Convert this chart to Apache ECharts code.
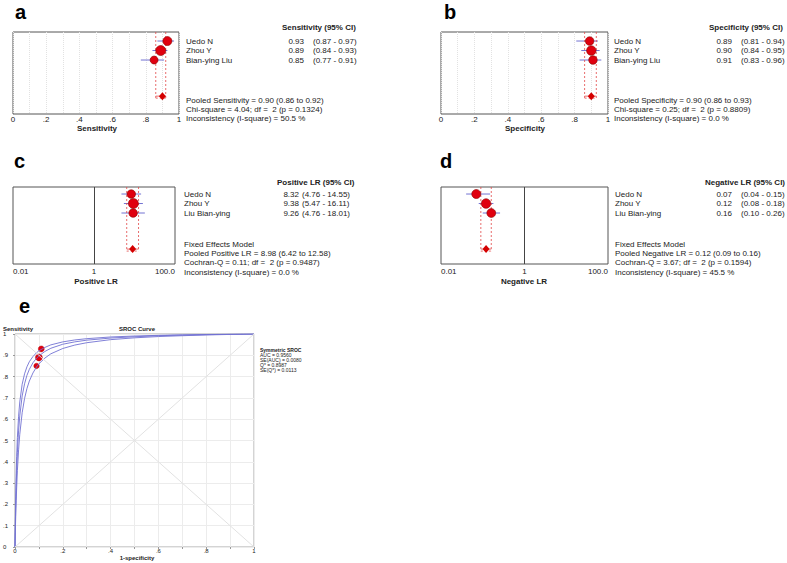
<!DOCTYPE html>
<html>
<head>
<meta charset="utf-8">
<script src="https://cdn.jsdelivr.net/npm/echarts@6/dist/echarts.min.js"></script>
<style>
html, body { margin: 0; padding: 0; background: #fff; }
#chart { width: 787px; height: 563px; }
</style>
</head>
<body>
<div id="chart"></div>
<script>
// ---- data ----
const studies = ['Uedo N', 'Zhou Y', 'Bian-ying Liu'];
const studiesLR = ['Uedo N', 'Zhou Y', 'Liu Bian-ying'];

// a: sensitivity
const sensEst = [0.93, 0.89, 0.85];
const sensLo = [0.87, 0.84, 0.77];
const sensHi = [0.97, 0.93, 0.91];
const sensPooled = [0.90, 0.86, 0.92];
const sensHet = [4.04, 2, 0.1324, 50.5];
const sensWeight = [0.9, 1.0, 0.8];

// b: specificity
const specEst = [0.89, 0.90, 0.91];
const specLo = [0.81, 0.84, 0.83];
const specHi = [0.94, 0.95, 0.96];
const specPooled = [0.90, 0.86, 0.93];
const specHet = [0.25, 2, 0.8809, 0.0];
const specWeight = [0.85, 0.95, 0.85];

// c: positive LR
const plrEst = [8.32, 9.38, 9.26];
const plrLo = [4.76, 5.47, 4.76];
const plrHi = [14.55, 16.11, 18.01];
const plrPooled = [8.98, 6.42, 12.58];
const plrHet = [0.11, 2, 0.9487, 0.0];
const plrWeight = [0.85, 1.0, 0.85];

// d: negative LR
const nlrEst = [0.07, 0.12, 0.16];
const nlrLo = [0.04, 0.08, 0.10];
const nlrHi = [0.15, 0.18, 0.26];
const nlrPooled = [0.12, 0.09, 0.16];
const nlrHet = [3.67, 2, 0.1594, 45.5];
const nlrWeight = [0.9, 0.95, 0.88];

// e: SROC curves
const srocFpr = [0, 0.0005, 0.001, 0.002, 0.003, 0.005, 0.007, 0.01, 0.015, 0.02, 0.03, 0.04, 0.05, 0.06, 0.075, 0.09, 0.1, 0.125, 0.15, 0.2, 0.25, 0.3, 0.4, 0.5, 0.6, 0.7, 0.8, 0.9, 1];
const srocUpper = [0, 0.050, 0.095, 0.173, 0.239, 0.344, 0.424, 0.514, 0.614, 0.681, 0.764, 0.813, 0.846, 0.870, 0.894, 0.912, 0.921, 0.937, 0.949, 0.963, 0.972, 0.978, 0.986, 0.9905, 0.9937, 0.9959, 0.9976, 0.9989, 1];
const srocMid = [0, 0.038, 0.073, 0.136, 0.192, 0.284, 0.357, 0.443, 0.545, 0.616, 0.709, 0.766, 0.806, 0.834, 0.865, 0.886, 0.897, 0.918, 0.933, 0.952, 0.963, 0.971, 0.981, 0.987, 0.992, 0.995, 0.997, 0.9986, 1];
const srocLower = [0, 0.027, 0.052, 0.100, 0.142, 0.217, 0.280, 0.358, 0.456, 0.529, 0.630, 0.697, 0.744, 0.779, 0.817, 0.845, 0.860, 0.887, 0.907, 0.932, 0.948, 0.959, 0.9735, 0.982, 0.988, 0.992, 0.9955, 0.998, 1];
const srocX = [0.11, 0.10, 0.09];
const srocY = [0.93, 0.89, 0.85];
const srocWeight = [0.6, 0.7, 0.55];
const srocStats = [0.9560, 0.0080, 0.8987, 0.0113];

// tick labels
const unitTicks = ['0', '.2', '.4', '.6', '.8', '1'];
const srocYTicks = ['0', '.1', '.2', '.3', '.4', '.5', '.6', '.7', '.8', '.9', '1'];
const lrTickValues = [0.01, 1, 100];
const lrTicks = ['0.01', '1', '100.0'];

// ---- layout / style ----
const FONT = '"Liberation Sans", Arial, sans-serif';
const RED = '#e0000f';
const BLUE = '#7272d2';
const studyRows = [1, 2, 3];
const pooledRow = 6.8;

function txt(x, y, s, opt) {
    opt = opt || {};
    return {
        type: 'text', x: x, y: y, silent: true,
        style: {
            text: s,
            font: (opt.bold ? 'bold ' : '') + (opt.size || 8) + 'px ' + FONT,
            fill: opt.color || '#222',
            textAlign: opt.align || 'left',
            textVerticalAlign: 'middle'
        }
    };
}

function unitLabel(v) {
    const k = Math.round(v * 10);
    return k % 2 === 0 ? unitTicks[k / 2] : '';
}

function lrLabel(v) {
    const i = lrTickValues.findIndex(t => Math.abs(Math.log10(t) - Math.log10(v)) < 1e-6);
    return i < 0 ? '' : lrTicks[i];
}

const panels = [
    { grid: { left: 13, top: 32, width: 166, height: 82 }, log: false, yMin: 0.05, yMax: 8.68,
      est: sensEst, lo: sensLo, hi: sensHi, pooled: sensPooled, weight: sensWeight },
    { grid: { left: 441, top: 32, width: 167, height: 82 }, log: false, yMin: 0.05, yMax: 8.68,
      est: specEst, lo: specLo, hi: specHi, pooled: specPooled, weight: specWeight },
    { grid: { left: 13, top: 187, width: 162, height: 77 }, log: true, yMin: 0.26, yMax: 8.37,
      est: plrEst, lo: plrLo, hi: plrHi, pooled: plrPooled, weight: plrWeight },
    { grid: { left: 441, top: 187, width: 167, height: 77 }, log: true, yMin: 0.26, yMax: 8.37,
      est: nlrEst, lo: nlrLo, hi: nlrHi, pooled: nlrPooled, weight: nlrWeight }
];

const grids = [], xAxes = [], yAxes = [], series = [];

panels.forEach((p, gi) => {
    grids.push(Object.assign({ show: true, borderColor: '#555', borderWidth: 1, backgroundColor: 'transparent' }, p.grid));
    if (p.log) {
        xAxes.push({
            gridIndex: gi, type: 'log', logBase: 10, min: 0.01, max: 100,
            axisLine: { show: false }, axisTick: { show: false }, splitLine: { show: false },
            axisLabel: { margin: 3, fontSize: 8, color: '#222', fontFamily: FONT, formatter: lrLabel,
                         alignMinLabel: 'left', alignMaxLabel: 'right', showMinLabel: true, showMaxLabel: true }
        });
    } else {
        xAxes.push({
            gridIndex: gi, type: 'value', min: 0, max: 1, interval: 0.1,
            axisLine: { show: false }, axisTick: { show: false },
            splitLine: { show: true, lineStyle: { color: '#e2e2e2', type: 'dotted', width: 1 } },
            axisLabel: { margin: 1, fontSize: 8, color: '#222', fontFamily: FONT, formatter: unitLabel }
        });
    }
    yAxes.push({ gridIndex: gi, type: 'value', inverse: true, min: p.yMin, max: p.yMax, show: false });

    // confidence interval whiskers
    const whisker = {
        type: 'custom', xAxisIndex: gi, yAxisIndex: gi, silent: true,
        encode: { x: [0, 1], y: 2 },
        data: p.est.map((e, i) => [p.lo[i], p.hi[i], studyRows[i]]),
        renderItem: function (params, api) {
            const a = api.coord([api.value(0), api.value(2)]);
            const b = api.coord([api.value(1), api.value(2)]);
            return { type: 'line', shape: { x1: a[0], y1: a[1], x2: b[0], y2: b[1] },
                     style: { stroke: BLUE, lineWidth: 1 } };
        }
    };
    if (p.log) {
        whisker.markLine = {
            silent: true, symbol: ['none', 'none'], label: { show: false },
            lineStyle: { color: '#444', type: 'solid', width: 1 },
            data: [{ xAxis: 1 }]
        };
    }
    series.push(whisker);

    // pooled CI: dashed verticals from the top of the box down to the pooled row
    series.push({
        type: 'custom', xAxisIndex: gi, yAxisIndex: gi, silent: true,
        encode: { x: [0, 1], y: 2 },
        data: [[p.pooled[1], p.pooled[2], pooledRow]],
        renderItem: function (params, api) {
            const top = params.coordSys.y;
            const a = api.coord([api.value(0), api.value(2)]);
            const b = api.coord([api.value(1), api.value(2)]);
            const dash = { stroke: '#e24848', lineWidth: 0.8, lineDash: [2, 2] };
            return { type: 'group', children: [
                { type: 'line', shape: { x1: a[0], y1: top, x2: a[0], y2: a[1] + 2 }, style: dash },
                { type: 'line', shape: { x1: b[0], y1: top, x2: b[0], y2: b[1] + 2 }, style: dash },
                { type: 'line', shape: { x1: a[0], y1: a[1] + 2, x2: b[0], y2: b[1] + 2 }, style: dash },
                { type: 'line', shape: { x1: a[0], y1: a[1], x2: b[0], y2: b[1] },
                  style: { stroke: '#e24848', lineWidth: 0.8 } }
            ] };
        }
    });

    // study estimates
    series.push({
        type: 'scatter', xAxisIndex: gi, yAxisIndex: gi, silent: true,
        data: p.est.map((e, i) => [e, studyRows[i], p.weight[i]]),
        symbolSize: d => d[2] * 10,
        itemStyle: { color: RED, borderColor: '#8a0000', borderWidth: 0.6, opacity: 1 }
    });

    // pooled estimate
    series.push({
        type: 'scatter', xAxisIndex: gi, yAxisIndex: gi, silent: true,
        data: [[p.pooled[0], pooledRow]],
        symbol: 'diamond', symbolSize: [7, 8],
        itemStyle: { color: '#d40000', opacity: 1 }
    });
});

// ---- SROC panel ----
const ge = panels.length;
grids.push({ left: 15, top: 334, width: 239, height: 213, show: true, borderColor: '#a8a8a8', borderWidth: 1, backgroundColor: 'transparent' });
xAxes.push({
    gridIndex: ge, type: 'value', min: 0, max: 1, interval: 0.1,
    axisLine: { show: false },
    axisTick: { show: true, length: 2, lineStyle: { color: '#999' } },
    splitLine: { show: true, lineStyle: { color: '#ececec', width: 1 } },
    axisLabel: { margin: 1, fontSize: 6, color: '#222', fontFamily: FONT, formatter: unitLabel }
});
yAxes.push({
    gridIndex: ge, type: 'value', min: 0, max: 1, interval: 0.1,
    axisLine: { show: false },
    axisTick: { show: true, length: 2, lineStyle: { color: '#999' } },
    splitLine: { show: true, lineStyle: { color: '#ececec', width: 1 } },
    axisLabel: { margin: 12, align: 'left', fontSize: 6, color: '#222', fontFamily: FONT,
                 formatter: v => srocYTicks[Math.round(v * 10)] }
});

[srocUpper, srocMid, srocLower].forEach((curve, k) => {
    const s = {
        type: 'line', xAxisIndex: ge, yAxisIndex: ge, silent: true,
        data: srocFpr.map((f, i) => [f, curve[i]]),
        showSymbol: false, smooth: false,
        lineStyle: { color: BLUE, width: 0.9 }
    };
    if (k === 0) {
        s.markLine = {
            silent: true, symbol: ['none', 'none'], label: { show: false },
            lineStyle: { color: '#e2e2e2', type: 'solid', width: 1 },
            data: [
                [{ coord: [0, 0] }, { coord: [1, 1] }],
                [{ coord: [0, 1] }, { coord: [1, 0] }]
            ]
        };
    }
    series.push(s);
});

series.push({
    type: 'scatter', xAxisIndex: ge, yAxisIndex: ge, silent: true,
    data: srocX.map((x, i) => [x, srocY[i], srocWeight[i]]),
    symbolSize: d => d[2] * 10,
    itemStyle: { color: RED, borderColor: '#b00000', borderWidth: 0.4, opacity: 1 }
});

// ---- texts ----
const texts = [];
function forestText(cfg) {
    texts.push(txt(cfg.headX, cfg.headY, cfg.header, { bold: true }));
    cfg.names.forEach((n, i) => {
        const y = cfg.rowY[i];
        texts.push(txt(cfg.nameX, y, n));
        texts.push(txt(cfg.valX, y, cfg.est[i].toFixed(2), { align: 'right' }));
        texts.push(txt(cfg.ciX, y, '(' + cfg.lo[i].toFixed(2) + ' - ' + cfg.hi[i].toFixed(2) + ')'));
    });
    cfg.notes.forEach((s, i) => texts.push(txt(cfg.nameX, cfg.noteY[i], s)));
    texts.push(txt(cfg.axisX, cfg.axisY, cfg.axisName, { bold: true, align: 'center' }));
}
const rowsTop = [41, 50.5, 60];
const rowsMid = [194, 203.5, 213];
function pooledStr(label, p) {
    return label + ' = ' + p[0].toFixed(2) + ' (' + p[1].toFixed(2) + ' to ' + p[2].toFixed(2) + ')';
}
function hetStr(label, h) {
    return label + ' = ' + h[0].toFixed(2) + '; df =  ' + h[1] + ' (p = ' + h[2].toFixed(4) + ')';
}
function i2Str(h) {
    return 'Inconsistency (I-square) = ' + h[3].toFixed(1) + ' %';
}

forestText({ header: 'Sensitivity (95% CI)', headX: 282, headY: 27, names: studies, rowY: rowsTop,
    nameX: 186, valX: 304, ciX: 313, est: sensEst, lo: sensLo, hi: sensHi,
    notes: [pooledStr('Pooled Sensitivity', sensPooled), hetStr('Chi-square', sensHet), i2Str(sensHet)],
    noteY: [100, 109, 118], axisName: 'Sensitivity', axisX: 97, axisY: 128 });
forestText({ header: 'Specificity (95% CI)', headX: 709, headY: 27, names: studies, rowY: rowsTop,
    nameX: 614, valX: 732, ciX: 741, est: specEst, lo: specLo, hi: specHi,
    notes: [pooledStr('Pooled Specificity', specPooled), hetStr('Chi-square', specHet), i2Str(specHet)],
    noteY: [100, 109, 118], axisName: 'Specificity', axisX: 525, axisY: 128 });
forestText({ header: 'Positive LR (95% CI)', headX: 277, headY: 182, names: studiesLR, rowY: rowsMid,
    nameX: 184, valX: 299, ciX: 302, est: plrEst, lo: plrLo, hi: plrHi,
    notes: ['Fixed Effects Model', pooledStr('Pooled Positive LR', plrPooled), hetStr('Cochran-Q', plrHet), i2Str(plrHet)],
    noteY: [244, 253, 262.5, 272], axisName: 'Positive LR', axisX: 96, axisY: 281 });
forestText({ header: 'Negative LR (95% CI)', headX: 705, headY: 182, names: studiesLR, rowY: rowsMid,
    nameX: 615, valX: 732, ciX: 741, est: nlrEst, lo: nlrLo, hi: nlrHi,
    notes: ['Fixed Effects Model', pooledStr('Pooled Negative LR', nlrPooled), hetStr('Cochran-Q', nlrHet), i2Str(nlrHet)],
    noteY: [244, 253, 262.5, 272], axisName: 'Negative LR', axisX: 524, axisY: 281 });

// panel letters
texts.push(txt(15, 11.5, 'a', { bold: true, size: 20, color: '#000' }));
texts.push(txt(444, 11.5, 'b', { bold: true, size: 20, color: '#000' }));
texts.push(txt(14, 161, 'c', { bold: true, size: 20, color: '#000' }));
texts.push(txt(440, 161, 'd', { bold: true, size: 20, color: '#000' }));
texts.push(txt(19, 306, 'e', { bold: true, size: 20, color: '#000' }));

// SROC labels
texts.push(txt(3, 329, 'Sensitivity', { bold: true, size: 6 }));
texts.push(txt(137, 329, 'SROC Curve', { bold: true, size: 6, align: 'center' }));
texts.push(txt(137, 557.5, '1-specificity', { bold: true, size: 6, align: 'center' }));
const srocLines = [
    'AUC = ' + srocStats[0].toFixed(4),
    'SE(AUC) = ' + srocStats[1].toFixed(4),
    'Q* = ' + srocStats[2].toFixed(4),
    'SE(Q*) = ' + srocStats[3].toFixed(4)
];
texts.push(txt(260, 349.5, 'Symmetric SROC', { bold: true, size: 5 }));
srocLines.forEach((s, i) => texts.push(txt(260, 354.5 + i * 5, s, { size: 5 })));

const chart = echarts.init(document.getElementById('chart'), null, { renderer: 'svg' });
chart.setOption({
    animation: false,
    backgroundColor: '#fff',
    grid: grids,
    xAxis: xAxes,
    yAxis: yAxes,
    series: series,
    graphic: { elements: texts }
});
</script>
</body>
</html>
